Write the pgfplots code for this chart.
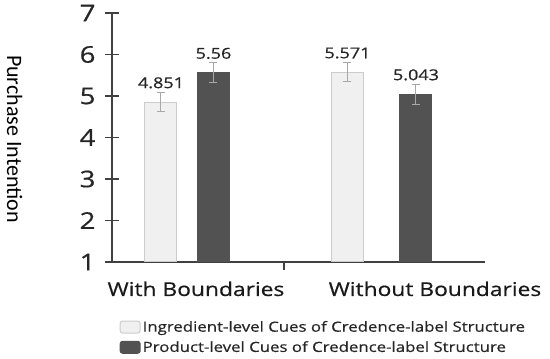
\documentclass[border=0pt]{standalone}
\usepackage{fontspec}
\setmainfont{Open Sans}[FakeStretch=1.2, FakeBold=0.6]
\newfontfamily\ylabfont{Carlito}
\usepackage{pgfplots}
\pgfplotsset{compat=1.18}
\definecolor{lightbar}{HTML}{F0F0F0}
\definecolor{lightedge}{HTML}{CCCCCC}
\definecolor{darkbar}{HTML}{525252}
\definecolor{axiscol}{HTML}{404040}
\definecolor{errcol}{HTML}{A8A8A8}
\begin{document}
\begin{tikzpicture}
\begin{axis}[
  scale only axis,
  width=373pt, height=249pt,
  xmin=112, xmax=485,
  ymin=1, ymax=7,
  ytick={1,2,3,4,5,6,7},
  xtick={196,435},
  xticklabels={With Boundaries, Without Boundaries},
  extra x ticks={284},
  extra x tick labels={},
  extra x tick style={major tick length=8pt, xtick style={draw=axiscol, line width=2pt}},
  xtick style={draw=none},
  ytick style={draw=axiscol, line width=1.5pt},
  major tick length=14pt,
  tick align=inside,
  axis lines=left,
  axis line style={-, draw=axiscol, line width=1.5pt},
  /pgf/number format/assume math mode=true,
  yticklabel style={font=\fontsize{23}{26}\selectfont, text=black!85, xshift=-6pt},
  xticklabel style={font=\fontsize{19}{22}\selectfont, text=black!90, yshift=-2pt},
  ylabel={\ylabfont\fontsize{22}{24}\selectfont Purchase Intention},
  ylabel style={at={(axis description cs:-0.261,0.494)}, anchor=center, rotate=180},
  ybar,
  nodes near coords={\pgfmathprintnumber[fixed,precision=3]{\pgfplotspointmeta}},
  every node near coord/.append style={font=\fontsize{15}{18}\selectfont, text=black!85, yshift=10pt},
  legend style={at={(0.012,-0.22)}, anchor=north west, draw=none, fill=none,
    font=\fontsize{14}{16}\selectfont, row sep=4pt, text=black!85},
  legend cell align=left,
]
\addplot+[bar shift=0pt, bar width=32, fill=lightbar, draw=lightedge, line width=1pt,
  legend image code/.code={\draw[fill=lightbar, draw=lightedge, line width=1pt, rounded corners=2.5pt] (0pt,-6pt) rectangle (20pt,6pt);},
  error bars/.cd, y dir=both, y explicit,
  error bar style={draw=errcol, line width=1pt},
  error mark options={rotate=90, mark size=4pt, draw=errcol, line width=1pt}]
  coordinates {(161,4.851) +- (0,0.23) (347.5,5.571) +- (0,0.23)};
\addplot+[bar shift=0pt, bar width=32, fill=darkbar, draw=darkbar, line width=1pt,
  legend image code/.code={\draw[fill=darkbar, draw=darkbar, line width=1pt, rounded corners=2.5pt] (0pt,-6pt) rectangle (20pt,6pt);},
  error bars/.cd, y dir=both, y explicit,
  error bar style={draw=errcol, line width=1pt},
  error mark options={rotate=90, mark size=4pt, draw=errcol, line width=1pt}]
  coordinates {(213.5,5.56) +- (0,0.24) (416,5.043) +- (0,0.24)};
\legend{Ingredient-level Cues of Credence-label Structure, Product-level Cues of Credence-label Structure}
\end{axis}
\path (current axis.south west) ++(-112pt,-97pt) rectangle ++(550pt,359pt);
\end{tikzpicture}
\end{document}
